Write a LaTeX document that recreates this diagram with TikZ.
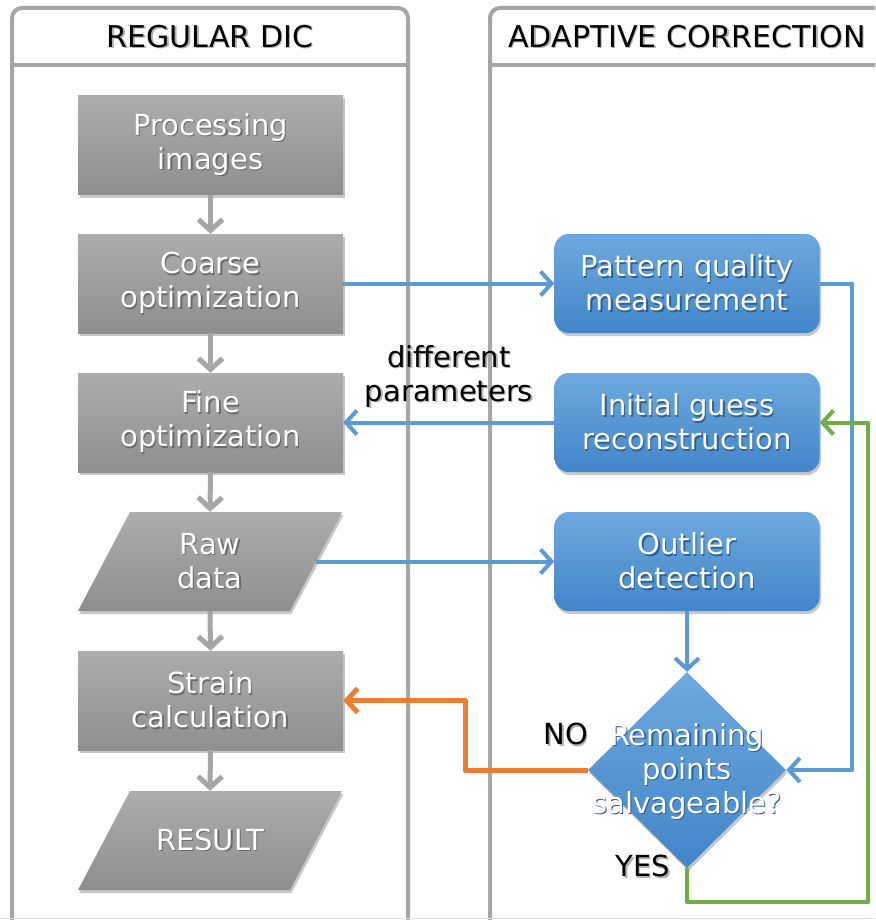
\documentclass[tikz,border=0pt]{standalone}
\usepackage{fontspec}
\setmainfont{DejaVu Sans}
\usetikzlibrary{arrows.meta,shadows,shapes.geometric}
\definecolor{panelgray}{HTML}{A6A6A6}
\definecolor{arrgray}{HTML}{A6A6A6}
\definecolor{boxgtop}{HTML}{ADADAD}
\definecolor{boxgbot}{HTML}{8E8E8E}
\definecolor{boxbtop}{HTML}{6EA8DF}
\definecolor{boxbbot}{HTML}{4286C8}
\definecolor{lineblue}{HTML}{5B9BD5}
\definecolor{lineorange}{HTML}{ED7D31}
\definecolor{linegreen}{HTML}{70AD47}
\definecolor{shgray}{HTML}{6A6A6A}
\definecolor{shblue}{HTML}{2F5F8F}
\newcommand\tsh[2][shgray]{\leavevmode\rlap{\hspace{1.3pt}\raisebox{-1.6pt}{\color{#1}#2}}#2}
\begin{document}
\begin{tikzpicture}[x=1pt,y=-1pt,
  shad/.style={drop shadow={shadow xshift=1.5pt, shadow yshift=-3pt, fill=black, opacity=0.22}},
  txt/.style={font=\fontsize{29}{34}\selectfont, align=center},
  graybox/.style={txt, rectangle, minimum width=265pt, minimum height=99pt, inner sep=0pt,
    text=white, top color=boxgtop, bottom color=boxgbot, shad},
  slantbox/.style={txt, rectangle, minimum width=212pt, minimum height=99pt, inner sep=0pt, text=white},
  slantfill/.style={top color=boxgtop, bottom color=boxgbot, shad},
  bluebox/.style={txt, rectangle, rounded corners=14pt, minimum width=265pt, minimum height=99pt, inner sep=0pt,
    text=white, top color=boxbtop, bottom color=boxbbot, shad},
  decision/.style={diamond, minimum width=198pt, minimum height=196pt, inner sep=0pt,
    top color=boxbtop, bottom color=boxbbot, shad},
  panel/.style={draw=panelgray, line width=4pt, rounded corners=10pt},
  header/.style={font=\fontsize{30}{32}\selectfont, text=black},
  plain/.style={font=\fontsize{29}{34}\selectfont, align=center, text=black},
  garrow/.style={draw=arrgray, line width=5pt, -{Straight Barb[length=11pt,width=24pt,line width=5pt]}},
  barrow/.style={draw=lineblue, line width=4pt, line join=round, -{Straight Barb[length=11pt,width=24pt,line width=4pt]}},
  oarrow/.style={draw=lineorange, line width=5pt, line join=round, -{Straight Barb[length=11pt,width=24pt,line width=5pt]}},
  grarrow/.style={draw=linegreen, line width=4pt, line join=round, -{Straight Barb[length=11pt,width=24pt,line width=4pt]}}
]
\useasboundingbox (0,0) rectangle (875,920);
\clip (0,0) rectangle (875,920);
\fill[white] (0,0) rectangle (875,920);

% panels
\draw[panel] (12,925) -- (12,8) -- (408,8) -- (408,925);
\draw[panelgray, line width=3.5pt] (12,65) -- (408,65);
\draw[panel] (490,925) -- (490,8) -- (900,8) -- (900,925);
\draw[panelgray, line width=3.5pt] (490,65) -- (890,65);
\draw[gray!20, line width=1.5pt] (0,918.5) -- (875,918.5);

\node[header] (h1) at (210,37) {\tsh[black!30]{REGULAR DIC}};
\node[header] (h2) at (687,37) {\tsh[black!30]{ADAPTIVE CORRECTION}};

% parallelogram shapes
\path[slantfill] (130,512) -- (342,512) -- (290,611) -- (78,611) -- cycle;
\path[slantfill] (130,791) -- (342,791) -- (290,890) -- (78,890) -- cycle;

% left column
\node[graybox] (proc) at (210.5,145) {\tsh{Processing}\\\tsh{images}};
\node[graybox] (coarse) at (210.5,283.5) {\tsh{Coarse}\\\tsh{optimization}};
\node[graybox] (fine) at (210.5,422.5) {\tsh{Fine}\\\tsh{optimization}};
\node[slantbox] (raw) at (210,561.5) {\tsh{Raw}\\\tsh{data}};
\node[graybox] (strain) at (210.5,700.5) {\tsh{Strain}\\\tsh{calculation}};
\node[slantbox] (result) at (210,840.5) {\tsh{RESULT}};

% right column
\node[bluebox] (pattern) at (687,283.5) {\tsh[shblue]{Pattern quality}\\\tsh[shblue]{measurement}};
\node[bluebox] (guess) at (687,422.5) {\tsh[shblue]{Initial guess}\\\tsh[shblue]{reconstruction}};
\node[bluebox] (outlier) at (687,561.5) {\tsh[shblue]{Outlier}\\\tsh[shblue]{detection}};
\node[decision] (dia) at (687,770) {};
\node[txt, text=white] (diatext) at (687,772) {\tsh[shblue]{Remaining}\\\tsh[shblue]{points}\\\tsh[shblue]{salvageable?}};

% labels
\node[plain] (lbl) at (449,377) {\tsh[black!30]{different}\\\tsh[black!30]{parameters}};
\node[plain] (no) at (566,735) {\tsh[black!30]{NO}};
\node[plain] (yes) at (643,867) {\tsh[black!30]{YES}};

% coordinates for routing
\coordinate (bx) at (852,0);
\coordinate (ox) at (465,0);
\coordinate (gr) at (868,902);

% gray arrows
\draw[garrow] (proc.south) -- (coarse.north);
\draw[garrow] (coarse.south) -- (fine.north);
\draw[garrow] (fine.south) -- (raw.north);
\draw[garrow] (raw.south) -- (strain.north);
\draw[garrow] (strain.south) -- (result.north);

% blue arrows
\draw[barrow] (coarse.east) -- (pattern.west);
\draw[barrow] (pattern.east) -- (pattern.east -| bx) -- (bx |- dia.east) -- (dia.east);
\draw[barrow] (guess.west) -- (fine.east);
\draw[barrow] (raw.east) -- (outlier.west);
\draw[barrow] (outlier.south) -- (dia.north);

% orange
\draw[oarrow] (dia.west) -- (dia.west -| ox) -- (ox |- strain.east) -- (strain.east);
% green
\draw[grarrow] (dia.south) |- (gr) |- (guess.east);
\end{tikzpicture}
\end{document}
